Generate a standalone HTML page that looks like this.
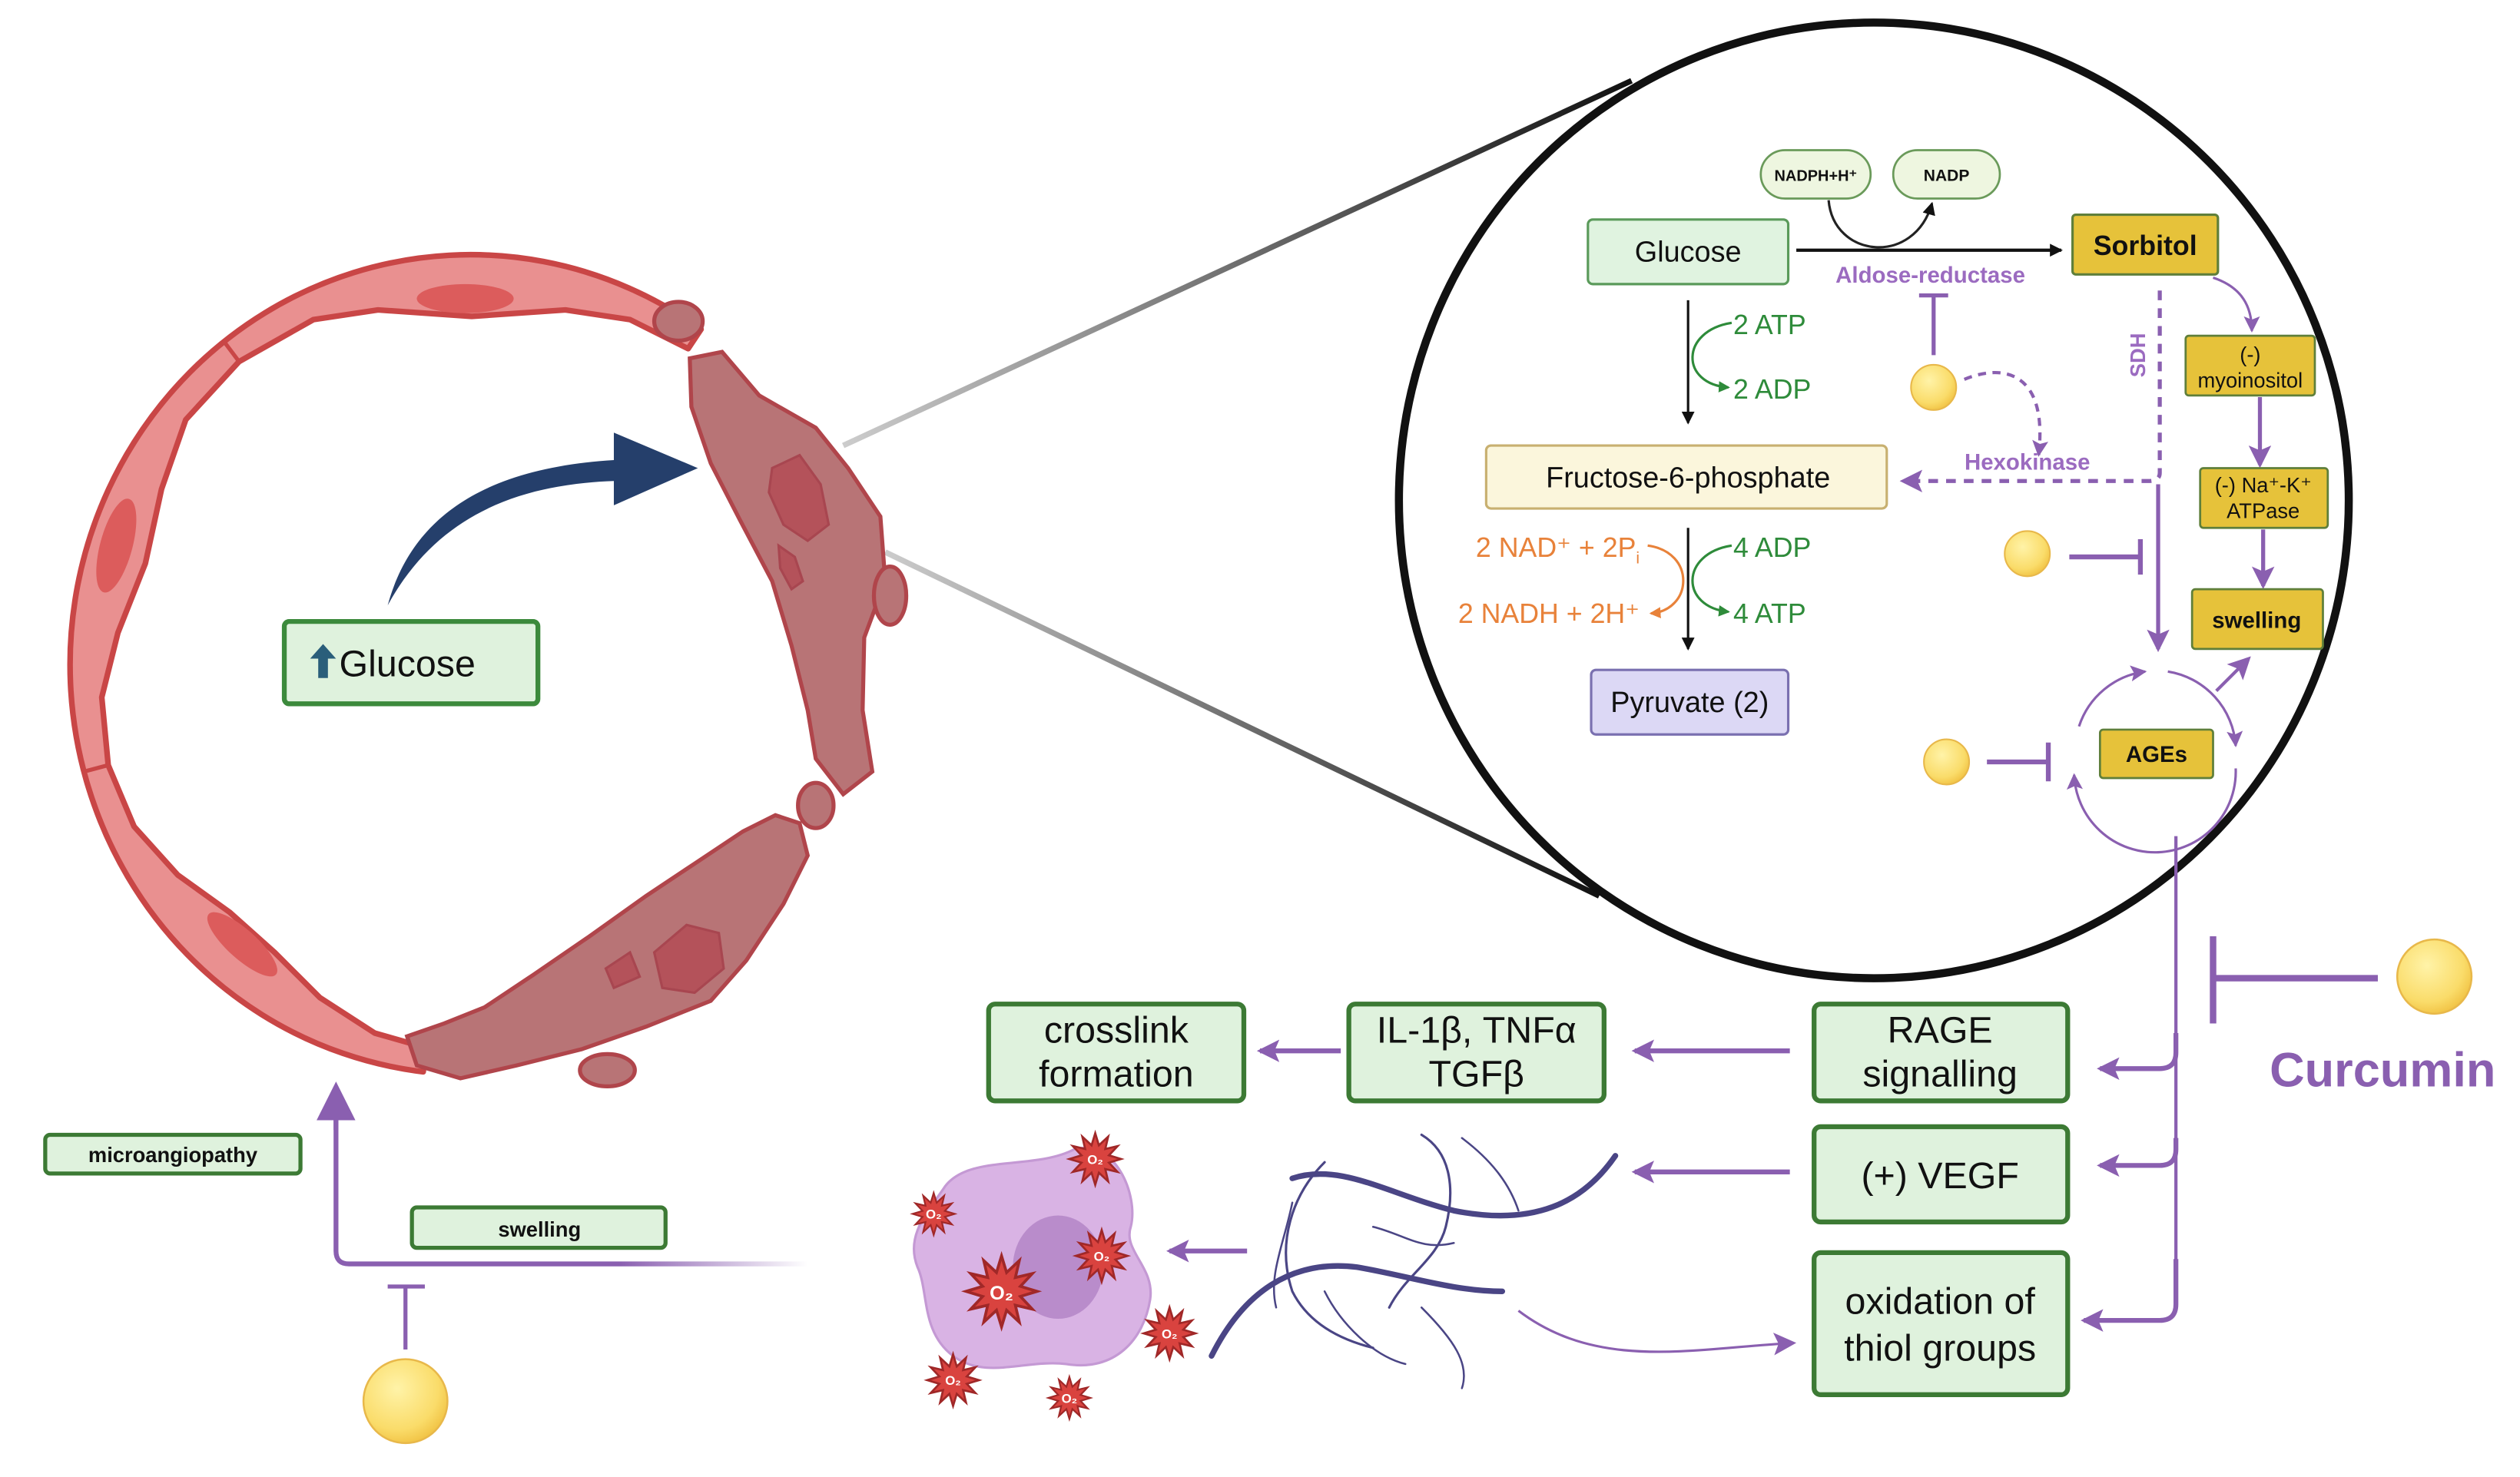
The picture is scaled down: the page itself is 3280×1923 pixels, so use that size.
<!DOCTYPE html>
<html><head><meta charset="utf-8"><style>
html,body{margin:0;padding:0;background:#fff;}
svg{display:block;}
text{font-family:"Liberation Sans",sans-serif;}
</style></head><body>
<svg width="3280" height="1923" viewBox="0 0 1560 915" preserveAspectRatio="none" xmlns="http://www.w3.org/2000/svg">
<defs>
<marker id="ak" markerWidth="8" markerHeight="8" refX="7" refY="4" orient="auto" markerUnits="userSpaceOnUse"><path d="M0,0 L8,4 L0,8 z" fill="#111"/></marker>
<marker id="ag" markerWidth="7" markerHeight="7" refX="6" refY="3.5" orient="auto" markerUnits="userSpaceOnUse"><path d="M0,0 L7,3.5 L0,7 z" fill="#2e8b3a"/></marker>
<marker id="ao" markerWidth="7" markerHeight="7" refX="6" refY="3.5" orient="auto" markerUnits="userSpaceOnUse"><path d="M0,0 L7,3.5 L0,7 z" fill="#e8823a"/></marker>
<marker id="ap" markerWidth="14" markerHeight="14" refX="12" refY="7" orient="auto" markerUnits="userSpaceOnUse"><path d="M0,0 L14,7 L0,14 L3,7 z" fill="#8a5fb0"/></marker>
<marker id="aps" markerWidth="10" markerHeight="10" refX="9" refY="5" orient="auto" markerUnits="userSpaceOnUse"><path d="M0,0 L10,5 L0,10 L2,5 z" fill="#8a5fb0"/></marker>
<radialGradient id="yb" cx="0.4" cy="0.35" r="0.7"><stop offset="0" stop-color="#fff3a8"/><stop offset="0.7" stop-color="#fadc6a"/><stop offset="1" stop-color="#f0c040"/></radialGradient>
<linearGradient id="fadeL" x1="0" x2="1" y1="0" y2="0"><stop offset="0" stop-color="#8a5fb0"/><stop offset="0.6" stop-color="#8a5fb0"/><stop offset="1" stop-color="#8a5fb0" stop-opacity="0"/></linearGradient>
<linearGradient id="z1" x1="0" x2="1"><stop offset="0" stop-color="#ccc"/><stop offset="1" stop-color="#111"/></linearGradient>
<polygon id="star" points="10,0 5.31,1.42 8.66,5 3.89,3.89 5,8.66 1.42,5.31 0,10 -1.42,5.31 -5,8.66 -3.89,3.89 -8.66,5 -5.31,1.42 -10,0 -5.31,-1.42 -8.66,-5 -3.89,-3.89 -5,-8.66 -1.42,-5.31 0,-10 1.42,-5.31 5,-8.66 3.89,-3.89 8.66,-5 5.31,-1.42" fill="#d9433f" stroke="#a02828" stroke-width="0.8"/>
</defs>

<!-- zoom lines -->
<line x1="522" y1="276" x2="1010" y2="50" stroke="url(#z1)" stroke-width="3.5"/>
<line x1="548" y1="342" x2="990" y2="555" stroke="url(#z1)" stroke-width="3.5"/>

<!-- vessel ring healthy -->
<path d="M434,204 A248,254 0 1 0 262,664 L263.6,649 L232,640 L198,618 L170,590 L142,565 L110,542 L83,512 L67,474 L63,432 L73,392 L90,349 L100,303 L115,260 L148,224 L194,198 L234,192 L292,196 L350,192 L390,198 L426,216 z" fill="#e99090" stroke="#c94646" stroke-width="3.5" stroke-linejoin="round"/>
<g stroke="#c94646" stroke-width="2.5">
<line x1="148" y1="224" x2="139" y2="212"/>
<line x1="67" y1="474" x2="52" y2="478"/>
</g>
<ellipse cx="288" cy="185" rx="30" ry="9" fill="#dc5c5c"/>
<ellipse cx="72" cy="338" rx="10" ry="30" transform="rotate(15 72 338)" fill="#dc5c5c"/>
<ellipse cx="150" cy="585" rx="28" ry="9" transform="rotate(42 150 585)" fill="#dc5c5c"/>
<!-- damaged -->
<g fill="#b87476" stroke="#b0454b" stroke-width="2.5">
<path d="M427,222 L447,218 L470,245 L505,265 L525,290 L545,320 L548,360 L535,395 L534,440 L540,478 L522,492 L505,470 L500,440 L490,400 L478,360 L458,322 L440,287 L428,252 z"/>
<path d="M495,510 L500,530 L485,560 L462,595 L440,620 L400,636 L360,650 L320,660 L285,668 L258,660 L252,642 L275,634 L300,624 L330,604 L365,580 L400,555 L430,535 L460,515 L480,505 z"/>
<ellipse cx="420" cy="199" rx="15" ry="12"/>
<ellipse cx="551" cy="369" rx="10" ry="18"/>
<ellipse cx="376" cy="663" rx="17" ry="10"/>
<ellipse cx="505" cy="499" rx="11" ry="14"/>
</g>
<g fill="#b4525a" stroke="#a84650" stroke-width="1.5">
<path d="M478,290 L495,282 L508,300 L513,325 L500,335 L485,325 L476,305 z"/>
<path d="M482,338 L492,345 L497,360 L490,365 L483,352 z"/>
<path d="M405,590 L425,573 L445,578 L448,600 L430,615 L410,612 z"/>
<path d="M375,600 L390,590 L396,605 L380,612 z"/>
</g>
<!-- navy arrow -->
<path d="M240,375 C255,320 300,290 380,285 L380,268 L432,290 L380,313 L380,298 C320,300 270,320 240,375 z" fill="#253f6b"/>

<!-- Glucose left -->
<rect x="176" y="385" width="157" height="51" rx="3" fill="#dff2dd" stroke="#3c8a3c" stroke-width="3"/>
<path d="M200,399 L208,408 L203,408 L203,420 L197,420 L197,408 L192,408 z" fill="#2a5e7a"/>
<text x="210" y="419" font-size="23" fill="#111">Glucose</text>

<!-- big circle -->
<ellipse cx="1160" cy="310" rx="294" ry="296" fill="#fff" stroke="#111" stroke-width="5"/>

<!-- inside circle -->
<rect x="983" y="136" width="124" height="40" rx="3" fill="#e0f3e0" stroke="#5a9a5a" stroke-width="1.5"/>
<text x="1045" y="162" font-size="18" text-anchor="middle" fill="#111">Glucose</text>
<rect x="1090" y="93" width="68" height="30" rx="15" fill="#eef6e0" stroke="#6a9a5a" stroke-width="1.3"/>
<text x="1124" y="112" font-size="9.5" font-weight="bold" text-anchor="middle" fill="#111">NADPH+H⁺</text>
<rect x="1172" y="93" width="66" height="30" rx="15" fill="#eef6e0" stroke="#6a9a5a" stroke-width="1.3"/>
<text x="1205" y="112" font-size="10" font-weight="bold" text-anchor="middle" fill="#111">NADP</text>
<path d="M1132,124 C1135,160 1185,165 1196,126" fill="none" stroke="#222" stroke-width="1.5" marker-end="url(#ak)"/>
<line x1="1112" y1="155" x2="1276" y2="155" stroke="#111" stroke-width="2" marker-end="url(#ak)"/>
<text x="1195" y="175" font-size="14" font-weight="bold" text-anchor="middle" fill="#9b6bc0">Aldose-reductase</text>
<rect x="1283" y="133" width="90" height="37" rx="2" fill="#e6c23a" stroke="#5f7f3a" stroke-width="1.5"/>
<text x="1328" y="158" font-size="17" font-weight="bold" text-anchor="middle" fill="#111">Sorbitol</text>
<line x1="1197" y1="183" x2="1197" y2="220" stroke="#8a5fb0" stroke-width="2.5"/>
<line x1="1188" y1="183" x2="1206" y2="183" stroke="#8a5fb0" stroke-width="2.5"/>
<circle cx="1197" cy="240" r="14" fill="url(#yb)" stroke="#e8b84a" stroke-width="1"/>
<path d="M1216,235 C1240,225 1268,230 1262,282" fill="none" stroke="#8a5fb0" stroke-width="2" stroke-dasharray="5,4" marker-end="url(#aps)"/>
<text x="1255" y="291" font-size="14" font-weight="bold" text-anchor="middle" fill="#9b6bc0">Hexokinase</text>
<path d="M1337,180 L1337,293 Q1337,298 1330,298 L1178,298" fill="none" stroke="#8a5fb0" stroke-width="2.5" stroke-dasharray="6,5" marker-end="url(#ap)"/>
<text x="1330" y="222" font-size="13" font-weight="bold" fill="#9b6bc0" text-anchor="middle" transform="rotate(-90 1328 222)">SDH</text>
<rect x="920" y="276" width="248" height="39" rx="3" fill="#fbf6dc" stroke="#c8b070" stroke-width="1.5"/>
<text x="1045" y="302" font-size="18" text-anchor="middle" fill="#111">Fructose-6-phosphate</text>
<line x1="1045" y1="186" x2="1045" y2="262" stroke="#111" stroke-width="1.5" marker-end="url(#ak)"/>
<path d="M1072,200 C1040,205 1040,238 1070,240" fill="none" stroke="#2e8b3a" stroke-width="1.5" marker-end="url(#ag)"/>
<text x="1073" y="207" font-size="17" fill="#2e8b3a">2 ATP</text>
<text x="1073" y="247" font-size="17" fill="#2e8b3a">2 ADP</text>
<line x1="1045" y1="327" x2="1045" y2="402" stroke="#111" stroke-width="1.5" marker-end="url(#ak)"/>
<path d="M1072,338 C1040,343 1040,376 1070,379" fill="none" stroke="#2e8b3a" stroke-width="1.5" marker-end="url(#ag)"/>
<text x="1073" y="345" font-size="17" fill="#2e8b3a">4 ADP</text>
<text x="1073" y="386" font-size="17" fill="#2e8b3a">4 ATP</text>
<path d="M1020,338 C1050,342 1048,378 1022,380" fill="none" stroke="#e8823a" stroke-width="1.5" marker-end="url(#ao)"/>
<text x="1015" y="345" font-size="17" text-anchor="end" fill="#e8823a">2 NAD⁺ + 2P<tspan font-size="10" dy="4">i</tspan></text>
<text x="1015" y="386" font-size="17" text-anchor="end" fill="#e8823a">2 NADH + 2H⁺</text>
<rect x="985" y="415" width="122" height="40" rx="3" fill="#dcd8f5" stroke="#7a70b0" stroke-width="1.5"/>
<text x="1046" y="441" font-size="18" text-anchor="middle" fill="#111">Pyruvate (2)</text>

<path d="M1370,172 C1388,178 1394,190 1394,205" fill="none" stroke="#8a5fb0" stroke-width="1.5" marker-end="url(#aps)"/>
<rect x="1353" y="208" width="80" height="37" rx="2" fill="#e6c23a" stroke="#5f7f3a" stroke-width="1.3"/>
<text x="1393" y="224" font-size="13" text-anchor="middle" fill="#111">(-)</text>
<text x="1393" y="240" font-size="13" text-anchor="middle" fill="#111">myoinositol</text>
<line x1="1399" y1="246" x2="1399" y2="288" stroke="#8a5fb0" stroke-width="2.5" marker-end="url(#ap)"/>
<rect x="1362" y="290" width="79" height="37" rx="2" fill="#e6c23a" stroke="#5f7f3a" stroke-width="1.3"/>
<text x="1401" y="305" font-size="13" text-anchor="middle" fill="#111">(-) Na⁺-K⁺</text>
<text x="1401" y="321" font-size="13" text-anchor="middle" fill="#111">ATPase</text>
<line x1="1401" y1="328" x2="1401" y2="363" stroke="#8a5fb0" stroke-width="2.5" marker-end="url(#ap)"/>
<rect x="1357" y="365" width="81" height="37" rx="2" fill="#e6c23a" stroke="#5f7f3a" stroke-width="1.3"/>
<text x="1397" y="389" font-size="14" font-weight="bold" text-anchor="middle" fill="#111">swelling</text>
<line x1="1336" y1="300" x2="1336" y2="402" stroke="#8a5fb0" stroke-width="2.5" marker-end="url(#ap)"/>
<circle cx="1255" cy="343" r="14" fill="url(#yb)" stroke="#e8b84a" stroke-width="1"/>
<line x1="1281" y1="345" x2="1325" y2="345" stroke="#8a5fb0" stroke-width="3"/>
<line x1="1325" y1="334" x2="1325" y2="356" stroke="#8a5fb0" stroke-width="3"/>
<!-- AGEs cycle -->
<path d="M1287,450 A50,50 0 0 1 1328,416" fill="none" stroke="#8a5fb0" stroke-width="1.5" marker-end="url(#aps)"/>
<path d="M1342,416 A50,50 0 0 1 1384,462" fill="none" stroke="#8a5fb0" stroke-width="1.5" marker-end="url(#aps)"/>
<path d="M1384,476 A50,50 0 0 1 1284,480" fill="none" stroke="#8a5fb0" stroke-width="1.5" marker-end="url(#aps)"/>
<line x1="1372" y1="428" x2="1392" y2="408" stroke="#8a5fb0" stroke-width="2" marker-end="url(#ap)"/>
<rect x="1300" y="452" width="70" height="30" rx="2" fill="#e6c23a" stroke="#5f7f3a" stroke-width="1.3"/>
<text x="1335" y="472" font-size="14" font-weight="bold" text-anchor="middle" fill="#111">AGEs</text>
<circle cx="1205" cy="472" r="14" fill="url(#yb)" stroke="#e8b84a" stroke-width="1"/>
<line x1="1230" y1="472" x2="1268" y2="472" stroke="#8a5fb0" stroke-width="3"/>
<line x1="1268" y1="460" x2="1268" y2="484" stroke="#8a5fb0" stroke-width="3"/>

<!-- trunk from AGEs -->
<line x1="1347" y1="518" x2="1347" y2="800" stroke="#8a5fb0" stroke-width="2"/>
<path d="M1347,640 L1347,652 Q1347,662 1337,662 L1300,662" fill="none" stroke="#8a5fb0" stroke-width="3" marker-end="url(#ap)"/>
<path d="M1347,705 L1347,712 Q1347,722 1337,722 L1300,722" fill="none" stroke="#8a5fb0" stroke-width="3" marker-end="url(#ap)"/>
<path d="M1347,780 L1347,808 Q1347,818 1337,818 L1290,818" fill="none" stroke="#8a5fb0" stroke-width="3" marker-end="url(#ap)"/>
<!-- curcumin -->
<circle cx="1507" cy="605" r="23" fill="url(#yb)" stroke="#e8b84a" stroke-width="1.2"/>
<line x1="1472" y1="606" x2="1370" y2="606" stroke="#8a5fb0" stroke-width="4"/>
<line x1="1370" y1="580" x2="1370" y2="634" stroke="#8a5fb0" stroke-width="4"/>
<text x="1475" y="673" font-size="30" font-weight="bold" text-anchor="middle" fill="#8a5fb0">Curcumin</text>

<!-- bottom boxes -->
<g fill="#dff2dd" stroke="#3c7a34" stroke-width="3">
<rect x="1123" y="622" width="157" height="60" rx="4"/>
<rect x="1123" y="698" width="157" height="59" rx="4"/>
<rect x="1123" y="776" width="157" height="88" rx="4"/>
<rect x="835" y="622" width="158" height="60" rx="4"/>
<rect x="612" y="622" width="158" height="60" rx="4"/>
</g>
<g font-size="23" fill="#111" text-anchor="middle">
<text x="1201" y="646">RAGE</text><text x="1201" y="673">signalling</text>
<text x="1201" y="736">(+) VEGF</text>
<text x="1201" y="814">oxidation of</text><text x="1201" y="843">thiol groups</text>
<text x="914" y="646">IL-1β, TNFα</text><text x="914" y="673">TGFβ</text>
<text x="691" y="646">crosslink</text><text x="691" y="673">formation</text>
</g>
<line x1="1108" y1="651" x2="1012" y2="651" stroke="#8a5fb0" stroke-width="3" marker-end="url(#ap)"/>
<line x1="830" y1="651" x2="780" y2="651" stroke="#8a5fb0" stroke-width="3" marker-end="url(#ap)"/>
<line x1="1108" y1="726" x2="1012" y2="726" stroke="#8a5fb0" stroke-width="3" marker-end="url(#ap)"/>
<line x1="772" y1="775" x2="724" y2="775" stroke="#8a5fb0" stroke-width="3" marker-end="url(#ap)"/>

<!-- vessels -->
<g fill="none" stroke="#4a4585" stroke-linecap="round">
<path d="M1000,716 C980,745 950,760 900,750 C860,740 830,720 800,730" stroke-width="3.5"/>
<path d="M750,840 C770,800 800,780 840,785 C870,790 900,800 930,800" stroke-width="3.5"/>
<path d="M820,720 C800,740 790,770 800,800 C810,820 830,830 850,835" stroke-width="1.5"/>
<path d="M880,703 C900,715 900,740 895,760 C890,780 870,790 860,810" stroke-width="1.5"/>
<path d="M800,745 C795,770 785,790 790,810" stroke-width="1.2"/>
<path d="M905,705 C925,720 935,735 940,750" stroke-width="1.2"/>
<path d="M850,760 C870,765 880,775 900,770" stroke-width="1.2"/>
<path d="M820,800 C830,820 850,840 870,845" stroke-width="1.2"/>
<path d="M880,810 C900,830 910,845 905,860" stroke-width="1.2"/>
</g>
<path d="M940,812 C990,850 1050,835 1110,832" fill="none" stroke="#8a5fb0" stroke-width="1.5" marker-end="url(#ap)"/>

<!-- cell -->
<path d="M585,735 C600,715 640,725 665,712 C690,705 705,740 700,760 C695,775 715,785 712,805 C708,830 690,850 660,845 C635,842 610,855 590,840 C570,825 575,800 568,785 C560,765 575,750 585,735 z" fill="#d9b3e4" stroke="#c499d4" stroke-width="1.5"/>
<ellipse cx="655" cy="785" rx="28" ry="32" fill="#b98ccb"/>
<use href="#star" transform="translate(678,718) scale(1.6)"/>
<use href="#star" transform="translate(578,752) scale(1.3)"/>
<use href="#star" transform="translate(682,778) scale(1.6)"/>
<use href="#star" transform="translate(620,800) scale(2.2)"/>
<use href="#star" transform="translate(724,826) scale(1.6)"/>
<use href="#star" transform="translate(590,855) scale(1.6)"/>
<use href="#star" transform="translate(662,866) scale(1.3)"/>
<g font-size="8" font-weight="bold" fill="#fff" text-anchor="middle">
<text x="678" y="721">O₂</text><text x="578" y="755">O₂</text><text x="682" y="781">O₂</text>
<text x="620" y="805" font-size="12">O₂</text><text x="724" y="829">O₂</text><text x="590" y="858">O₂</text><text x="662" y="869">O₂</text>
</g>

<!-- left bottom -->
<rect x="28" y="703" width="158" height="24" rx="3" fill="#dff2dd" stroke="#3c7a34" stroke-width="2.5"/>
<text x="107" y="720" font-size="13" font-weight="bold" text-anchor="middle" fill="#111">microangiopathy</text>
<rect x="255" y="748" width="157" height="25" rx="3" fill="#dff2dd" stroke="#3c7a34" stroke-width="2.5"/>
<text x="334" y="766" font-size="13" font-weight="bold" text-anchor="middle" fill="#111">swelling</text>
<path d="M500,783 L216,783 Q208,783 208,775 L208,690" fill="none" stroke="url(#fadeL)" stroke-width="3"/>
<path d="M208,700 L208,690" stroke="#8a5fb0" stroke-width="3"/>
<path d="M196,694 L208,670 L220,694 z" fill="#8a5fb0"/>
<line x1="240" y1="797" x2="263" y2="797" stroke="#8a5fb0" stroke-width="2.5"/>
<line x1="251" y1="797" x2="251" y2="836" stroke="#8a5fb0" stroke-width="2.5"/>
<ellipse cx="251" cy="868" rx="26" ry="26" fill="url(#yb)" stroke="#e8b84a" stroke-width="1.2"/>
</svg>
</body></html>
